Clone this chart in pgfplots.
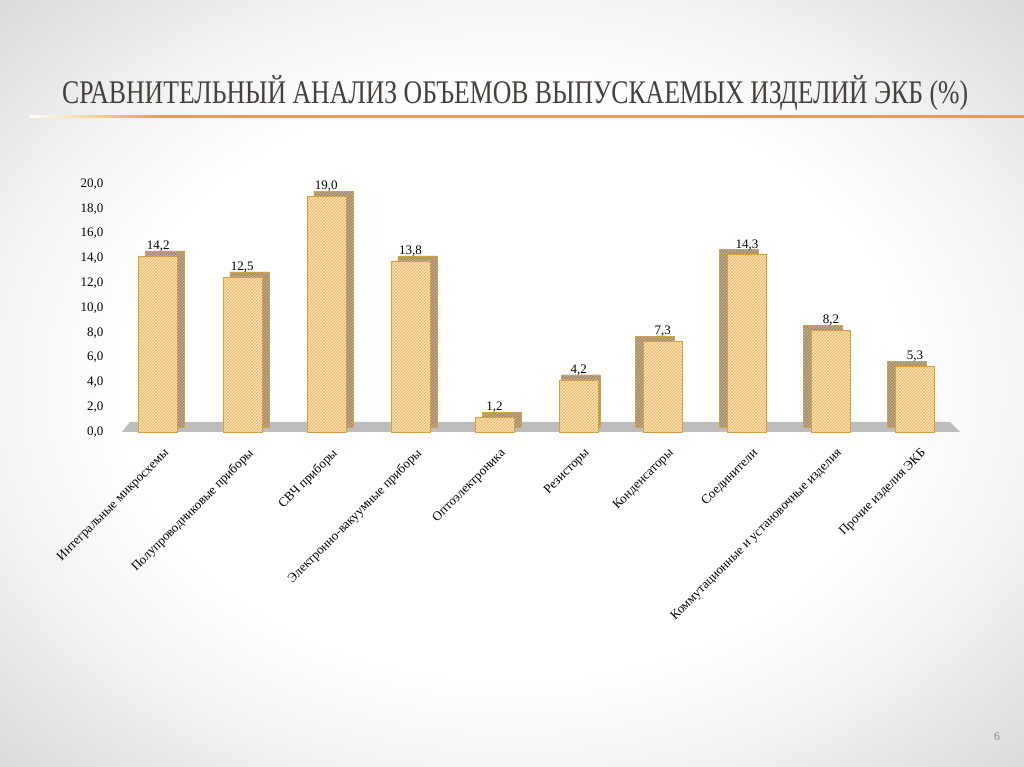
\documentclass[border=0pt]{standalone}
\usepackage{fontspec}
\setmainfont{Liberation Serif}
\usepackage{graphicx}
\usepackage{pgfplots}
\pgfplotsset{compat=1.18}
\usetikzlibrary{patterns}

\definecolor{frontcol}{HTML}{FBE2B0}
\definecolor{hatchcol}{HTML}{E3A95A}
\definecolor{edgecol}{HTML}{D6A040}
\definecolor{sidecol}{HTML}{A9885A}
\definecolor{floorcol}{HTML}{BDBDBD}
\definecolor{titlecol}{HTML}{45403C}
\definecolor{linecol}{HTML}{E9A236}

\pgfdeclareradialshading{vignette}{\pgfpoint{0bp}{0bp}}{%
  color(0bp)=(white); color(19bp)=(white); color(26bp)=(black!5);
  color(36bp)=(black!15); color(50bp)=(black!15)}

\begin{document}
\begin{tikzpicture}[x=1pt,y=1pt]
  \shade[shading=vignette] (0,0) rectangle (1024,767);
  \path[use as bounding box] (0,0) rectangle (1024,767);

  % title and rule
  \node[anchor=base west, inner sep=0, text=titlecol] at (62,663)
    {\resizebox{906pt}{\height}{\fontsize{33}{33}\selectfont
      СРАВНИТЕЛЬНЫЙ АНАЛИЗ ОБЪЕМОВ ВЫПУСКАЕМЫХ ИЗДЕЛИЙ ЭКБ (\%)}};
  \shade[left color=white, right color=linecol] (30,649) rectangle (160,651.5);
  \fill[linecol] (160,649) rectangle (1024,651.5);

  % floor
  \fill[floorcol] (122,335) -- (960,335) -- (950,345) -- (130,345) -- cycle;

  \node[text=black!45, font=\fontsize{12}{14}\selectfont] at (997,30) {6};

  \begin{axis}[
      at={(122pt,335pt)}, anchor=south west,
      x=84.1pt, y=12.4pt,
      xmin=-0.43, xmax=9.55, ymin=0, ymax=20,
      ybar, bar width=39pt,
      clip=false,
      axis line style={draw=none},
      major tick length=0pt,
      xtick={0,...,9},
      xticklabels={Интегральные микросхемы, Полупроводниковые приборы,
        СВЧ приборы, Электронно-вакуумные приборы, Оптоэлектроника,
        Резисторы, Конденсаторы, Соединители,
        Коммутационные и установочные изделия, Прочие изделия ЭКБ},
      xticklabel style={rotate=45, anchor=north east, xshift=-4pt, yshift=-11pt,
        font=\fontsize{13}{15}\selectfont},
      ytick={0,2,...,20},
      yticklabel style={font=\fontsize{13}{15}\selectfont, xshift=-15pt},
      /pgf/number format/.cd, fixed, fixed zerofill, precision=1, use comma,
        assume math mode=true,
    ]
    % side and top faces
    \addplot[fill=sidecol, draw=edgecol, bar shift=7pt, yshift=5pt,
        postaction={pattern=north east lines, pattern color=black!25}]
      coordinates {(0,14.2) (1,12.5) (2,19.0) (3,13.8) (4,1.2)};
    \addplot[fill=sidecol, draw=edgecol, bar shift=2pt, yshift=5pt,
        postaction={pattern=north east lines, pattern color=black!25}]
      coordinates {(5,4.2)};
    \addplot[fill=sidecol, draw=edgecol, bar shift=-8pt, yshift=5pt,
        postaction={pattern=north east lines, pattern color=black!25}]
      coordinates {(6,7.3) (7,14.3) (8,8.2) (9,5.3)};
    % front faces
    \addplot[fill=frontcol, draw=edgecol, bar shift=0pt,
        postaction={pattern=north east lines, pattern color=hatchcol},
        nodes near coords,
        every node near coord/.append style={font=\fontsize{13}{15}\selectfont,
          text=black, yshift=1pt}]
      coordinates {(0,14.2) (1,12.5) (2,19.0) (3,13.8) (4,1.2)
        (5,4.2) (6,7.3) (7,14.3) (8,8.2) (9,5.3)};
  \end{axis}
\end{tikzpicture}
\end{document}
